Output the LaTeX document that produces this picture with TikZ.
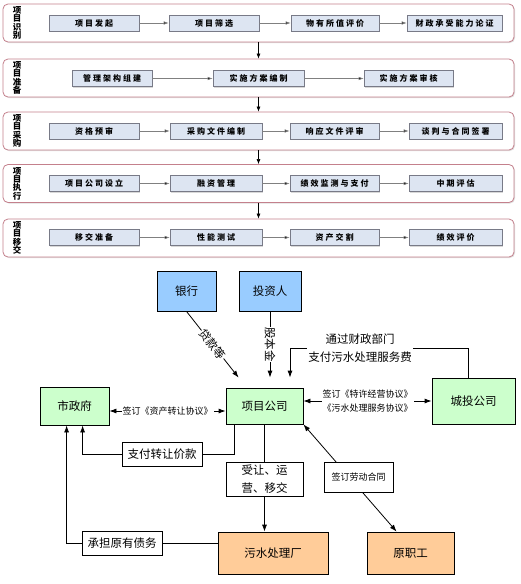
\documentclass[tikz,border=0pt]{standalone}
\usepackage{fontspec}
\setmainfont{Noto Sans CJK SC}
\newfontfamily\topfont[LetterSpace=25]{Noto Sans CJK SC}
\usetikzlibrary{arrows.meta,calc,shadows}
\definecolor{stageB}{RGB}{196,128,140}
\definecolor{stepF}{RGB}{221,229,242}
\definecolor{stepB}{RGB}{120,122,135}
\definecolor{blueF}{RGB}{153,204,255}
\definecolor{greenF}{RGB}{204,255,204}
\definecolor{orangeF}{RGB}{255,204,153}
\tikzset{
  stagebox/.style={draw=stageB, line width=0.8pt, rounded corners=5pt, fill=white,
    minimum width=511pt, minimum height=38pt, inner sep=0pt,
    drop shadow={shadow xshift=1pt, shadow yshift=-1pt, opacity=0.25}},
  stagelbl/.style={font=\topfont\bfseries\fontsize{8.5}{8.3}\selectfont, align=center, inner sep=0pt},
  stepbox/.style={draw=stepB, fill=stepF, line width=0.6pt, minimum height=16pt, inner sep=0pt,
    font=\topfont\bfseries\fontsize{8}{9}\selectfont,
    drop shadow={shadow xshift=1pt, shadow yshift=-1pt, opacity=0.3}},
  harr/.style={draw=gray, line width=0.6pt, -{Latex[length=5pt,width=3.5pt,fill=black]}},
  varr/.style={draw=black, line width=0.6pt, -{Latex[length=5pt,width=4pt]}},
  bx/.style={draw=black, line width=0.8pt, inner sep=0pt, font=\fontsize{11.5}{14}\selectfont},
  bluebox/.style={bx, fill=blueF},
  greenbox/.style={bx, fill=greenF},
  orangebox/.style={bx, fill=orangeF},
  whitebox/.style={bx, fill=white, align=center},
  lbl/.style={fill=white, inner sep=1pt, font=\fontsize{11.5}{18}\selectfont, align=center},
  smalllbl/.style={fill=white, inner sep=1pt, font=\fontsize{9}{14}\selectfont, align=center},
  bline/.style={draw=black, line width=0.8pt},
  barr/.style={bline, -{Latex[length=7pt,width=5pt]}},
  bboth/.style={bline, {Latex[length=7pt,width=5pt]}-{Latex[length=7pt,width=5pt]}}
}
\begin{document}
\begin{tikzpicture}[x=1pt,y=-1pt]
\useasboundingbox (0,0) rectangle (521,584);
\fill[white] (0,0) rectangle (521,584);

% ---------- stages ----------
\node[stagebox] (s1) at (258.5,23) {};
\node[stagebox] (s2) at (258.5,78) {};
\node[stagebox] (s3) at (258.5,131) {};
\node[stagebox] (s4) at (258.5,183.5) {};
\node[stagebox] (s5) at (258.5,238) {};

\node[stagelbl] (l1) at (17,23) {项\\目\\识\\别};
\node[stagelbl] (l2) at (17,78) {项\\目\\准\\备};
\node[stagelbl] (l3) at (17,131) {项\\目\\采\\购};
\node[stagelbl] (l4) at (17,183.5) {项\\目\\执\\行};
\node[stagelbl] (l5) at (17,238) {项\\目\\移\\交};

\draw[varr] (s1.south) -- (s2.north);
\draw[varr] (s2.south) -- (s3.north);
\draw[varr] (s3.south) -- (s4.north);
\draw[varr] (s4.south) -- (s5.north);

% stage 1
\node[stepbox, minimum width=90pt] (a1) at (94,23) {项目发起};
\node[stepbox, minimum width=90pt] (a2) at (214,23) {项目筛选};
\node[stepbox, minimum width=88pt] (a3) at (335,23) {物有所值评价};
\node[stepbox, minimum width=95pt] (a4) at (454.5,23) {财政承受能力论证};
\draw[harr] (a1.east) -- (a2.west);
\draw[harr] (a2.east) -- (a3.west);
\draw[harr] (a3.east) -- (a4.west);
% stage 2
\node[stepbox, minimum width=80pt] (b1) at (112,78.5) {管理架构组建};
\node[stepbox, minimum width=91pt] (b2) at (258.5,78.5) {实施方案编制};
\node[stepbox, minimum width=89pt] (b3) at (408.5,78.5) {实施方案审核};
\draw[harr] (b1.east) -- (b2.west);
\draw[harr] (b2.east) -- (b3.west);
% stage 3
\node[stepbox, minimum width=90pt] (c1) at (94,131) {资格预审};
\node[stepbox, minimum width=92pt] (c2) at (216,131) {采购文件编制};
\node[stepbox, minimum width=89pt] (c3) at (334.5,131) {响应文件评审};
\node[stepbox, minimum width=93pt] (c4) at (455.5,131) {谈判与合同签署};
\draw[harr] (c1.east) -- (c2.west);
\draw[harr] (c2.east) -- (c3.west);
\draw[harr] (c3.east) -- (c4.west);
% stage 4
\node[stepbox, minimum width=90pt] (d1) at (94,183.5) {项目公司设立};
\node[stepbox, minimum width=92pt] (d2) at (216,183.5) {融资管理};
\node[stepbox, minimum width=89pt] (d3) at (334.5,183.5) {绩效监测与支付};
\node[stepbox, minimum width=93pt] (d4) at (455.5,183.5) {中期评估};
\draw[harr] (d1.east) -- (d2.west);
\draw[harr] (d2.east) -- (d3.west);
\draw[harr] (d3.east) -- (d4.west);
% stage 5
\node[stepbox, minimum width=90pt] (e1) at (94,237.5) {移交准备};
\node[stepbox, minimum width=92pt] (e2) at (216,237.5) {性能测试};
\node[stepbox, minimum width=89pt] (e3) at (334.5,237.5) {资产交割};
\node[stepbox, minimum width=93pt] (e4) at (455.5,237.5) {绩效评价};
\draw[harr] (e1.east) -- (e2.west);
\draw[harr] (e2.east) -- (e3.west);
\draw[harr] (e3.east) -- (e4.west);

% ---------- lower diagram ----------
\node[bluebox, minimum width=59pt, minimum height=40pt] (bank) at (186.5,291) {银行};
\node[bluebox, minimum width=62pt, minimum height=40pt] (inv) at (270,291) {投资人};
\node[greenbox, minimum width=77pt, minimum height=36pt] (pc) at (264.5,406) {项目公司};
\node[greenbox, minimum width=69pt, minimum height=38pt] (gov) at (74.5,406) {市政府};
\node[greenbox, minimum width=83pt, minimum height=46pt] (ct) at (473.5,401) {城投公司};
\node[orangebox, minimum width=110pt, minimum height=42pt] (plant) at (273,553) {污水处理厂};
\node[orangebox, minimum width=87pt, minimum height=42pt] (staff) at (410.5,553) {原职工};

% bank -> company
\draw[barr] (bank.south) -- node[lbl, sloped, inner sep=0.5pt] {贷款等} ($(pc.north west)+(13,-10)$);
% investor -> company
\draw[barr] (inv.south) -- node[lbl, sloped, inner sep=0.5pt] {股本金} ($(inv.south |- pc.north)+(0,-10)$);
% city investment -> company
\coordinate (turn) at (290,348);
\draw[barr] ($(ct.north)+(-5,0)$) |- (turn) -- ($(turn |- pc.north)+(0,-10)$);
\node[lbl] (fee) at (360,348) {通过财政部门\\支付污水处理服务费};

% government <-> company
\draw[bboth] ([yshift=-5pt]gov.east) -- node[smalllbl] {签订《资产转让协议》} ([yshift=-5pt]pc.west);
% company <-> city investment
\draw[bboth] (pc.east |- ct.west) -- node[smalllbl] {签订《特许经营协议》\\《污水处理服务协议》} (ct.west);

% company -> pay -> government
\node[whitebox, minimum width=80pt, minimum height=24pt] (pay) at (162,454) {支付转让价款};
\draw[bline] ($(pc.south west)+(9,0)$) |- (pay.east);
\draw[barr] (pay.west) -| ($(gov.south west)+(43,0)$);

% company -> transfer -> plant
\node[whitebox, minimum width=77pt, minimum height=34pt, font=\fontsize{11.5}{18}\selectfont] (tr) at (264.5,479) {受让、运\\营、移交};
\draw[bline] (pc.south) -- (tr.north);
\draw[barr] (tr.south) -- (tr.south |- plant.north);

% company <-> staff
\coordinate (staffTop) at ($(staff.north west)+(30,0)$);
\draw[bboth] (pc.south east) -- (staffTop);
\node[whitebox, minimum width=69pt, minimum height=30pt, font=\fontsize{9}{11}\selectfont] (labor) at (358.5,477) {签订劳动合同};

% plant -> debt -> government
\node[whitebox, minimum width=80pt, minimum height=24pt] (debt) at (122,543) {承担原有债务};
\draw[bline] (plant.west |- debt.east) -- (debt.east);
\draw[barr] (debt.west) -| ($(gov.south west)+(27,0)$);
\end{tikzpicture}
\end{document}
